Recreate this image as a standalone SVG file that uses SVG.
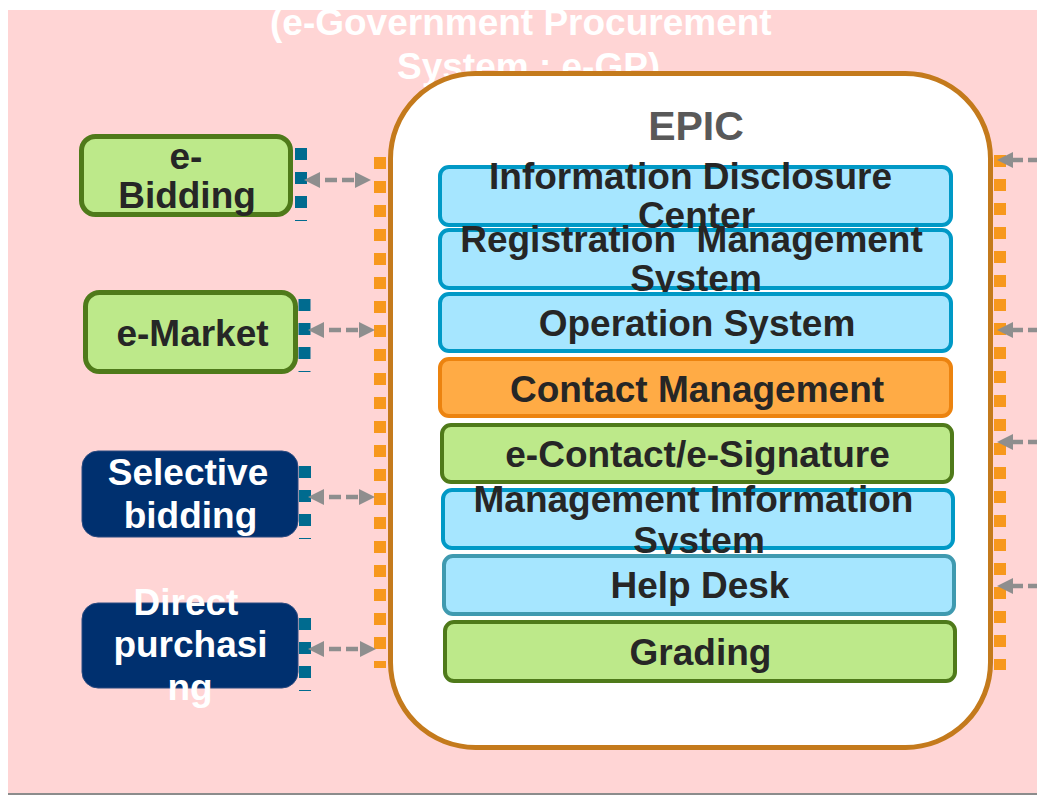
<svg xmlns="http://www.w3.org/2000/svg" width="1037" height="795" viewBox="0 0 1037 795">
<defs>
<marker id="ah" viewBox="0 0 16 16" refX="0" refY="8" markerWidth="16" markerHeight="16" markerUnits="userSpaceOnUse" orient="auto-start-reverse">
<path d="M0,0 L16,8 L0,16 Z" fill="#8E8E8E"/>
</marker>
<style>
.t{font-family:"Liberation Sans",Arial,sans-serif;font-weight:bold;font-size:37px;text-anchor:middle;fill:#262626}
.w{fill:#FFFFFF}
.blue{fill:#A6E6FF;stroke:#0099C6;stroke-width:4}
.help{fill:#A6E6FF;stroke:#3F9AB0;stroke-width:4}
.orange{fill:#FFAB45;stroke:#EC830F;stroke-width:4}
.green{fill:#BDE98A;stroke:#4F7A1A;stroke-width:4}
.lgreen{fill:#BDE98A;stroke:#4F7A1A;stroke-width:5}
.navy{fill:#00306F;stroke:#2A4A80;stroke-width:1}
.port{stroke:#006B8F;stroke-width:12;stroke-dasharray:12 12;fill:none}
.bus{stroke:#F7981D;stroke-width:12;stroke-dasharray:12 12;fill:none}
.arr{stroke:#8E8E8E;stroke-width:4.5;stroke-dasharray:12 5;stroke-dashoffset:12;fill:none}
</style>
</defs>
<rect x="8" y="10" width="1029" height="783" fill="#FFD5D5"/>
<line x1="8" y1="794" x2="1037" y2="794" stroke="#8C8C8C" stroke-width="2"/>
<g id="title">
<text class="t w" x="270" y="35" style="text-anchor:start">(e-Government Procurement</text>
<text class="t w" x="397" y="79" style="text-anchor:start">System : e-GP)</text>
</g>
<g id="epic">
<rect x="390.5" y="73.5" width="600" height="674" rx="85" fill="#FFFFFF" stroke="#C47A1C" stroke-width="5"/>
<text x="696" y="140" style="font-family:'Liberation Sans',Arial,sans-serif;font-weight:bold;font-size:41px;text-anchor:middle;fill:#595959">EPIC</text>
</g>
<g id="info-disclosure">
<rect class="blue" x="440" y="167" width="511" height="58" rx="9"/>
<text class="t" x="690.5" y="189">Information Disclosure</text>
<text class="t" x="696.5" y="228">Center</text>
</g>
<g id="registration">
<rect class="blue" x="440" y="230" width="511" height="58" rx="9"/>
<text class="t" x="691.5" y="252" style="white-space:pre">Registration  Management</text>
<text class="t" x="696" y="291">System</text>
</g>
<g id="operation">
<rect class="blue" x="440" y="294" width="511" height="57" rx="9"/>
<text class="t" x="697" y="336">Operation System</text>
</g>
<g id="contact-management">
<rect class="orange" x="440" y="359" width="511" height="57" rx="9"/>
<text class="t" x="697" y="402">Contact Management</text>
</g>
<g id="e-contact">
<rect class="green" x="442" y="425" width="510" height="57" rx="9"/>
<text class="t" x="697.5" y="467">e-Contact/e-Signature</text>
</g>
<g id="mis">
<rect class="blue" x="443" y="490" width="510" height="58" rx="9"/>
<text class="t" x="693.5" y="512">Management Information</text>
<text class="t" x="699" y="553">System</text>
</g>
<g id="help-desk">
<rect class="help" x="444" y="556" width="510" height="58" rx="9"/>
<text class="t" x="700" y="598">Help Desk</text>
</g>
<g id="grading">
<rect class="green" x="445" y="622" width="510" height="59" rx="9"/>
<text class="t" x="700.5" y="665">Grading</text>
</g>
<g id="e-bidding">
<rect class="lgreen" x="81.5" y="136.5" width="209" height="78" rx="14"/>
<line class="port" x1="301" y1="148" x2="301" y2="221"/>
<text class="t" x="186" y="169">e-</text>
<text class="t" x="187" y="208">Bidding</text>
</g>
<g id="e-market">
<rect class="lgreen" x="85.5" y="292.5" width="210" height="79" rx="14"/>
<line class="port" x1="304.5" y1="299" x2="304.5" y2="372"/>
<text class="t" x="192.5" y="346">e-Market</text>
</g>
<g id="selective-bidding">
<rect class="navy" x="82" y="451" width="216" height="86" rx="16"/>
<line class="port" x1="305" y1="466" x2="305" y2="539"/>
<text class="t w" x="188" y="485">Selective</text>
<text class="t w" x="190.5" y="528">bidding</text>
</g>
<g id="direct-purchasing">
<rect class="navy" x="82" y="603" width="216" height="85" rx="16"/>
<line class="port" x1="305" y1="618" x2="305" y2="691"/>
<text class="t w" x="186" y="615">Direct</text>
<text class="t w" x="190.5" y="657">purchasi</text>
<text class="t w" x="190" y="700">ng</text>
</g>
<g id="buses">
<line class="bus" x1="380" y1="157" x2="380" y2="668"/>
<line class="bus" x1="1000" y1="155" x2="1000" y2="670"/>
</g>
<g id="connectors">
<line class="arr" x1="320" y1="180" x2="355" y2="180" marker-start="url(#ah)" marker-end="url(#ah)"/>
<line class="arr" x1="324" y1="330" x2="359" y2="330" marker-start="url(#ah)" marker-end="url(#ah)"/>
<line class="arr" x1="324" y1="497" x2="359" y2="497" marker-start="url(#ah)" marker-end="url(#ah)"/>
<line class="arr" x1="324" y1="649" x2="360" y2="649" marker-start="url(#ah)" marker-end="url(#ah)"/>
<line class="arr" x1="1045" y1="160" x2="1013" y2="160" marker-end="url(#ah)"/>
<line class="arr" x1="1045" y1="330" x2="1013" y2="330" marker-end="url(#ah)"/>
<line class="arr" x1="1045" y1="442" x2="1013" y2="442" marker-end="url(#ah)"/>
<line class="arr" x1="1045" y1="586" x2="1013" y2="586" marker-end="url(#ah)"/>
</g>
</svg>
